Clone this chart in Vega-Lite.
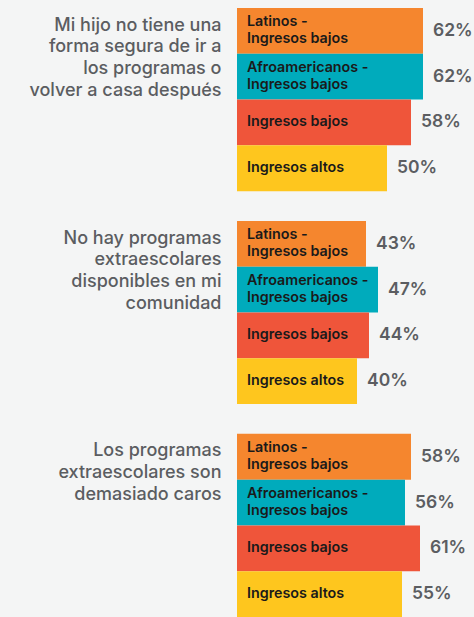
{
  "$schema": "https://vega.github.io/schema/vega-lite/v6.json",
  "width": 237,
  "height": 609,
  "autosize": "none",
  "padding": {"left": 237, "top": 8, "right": 0, "bottom": 0},
  "background": "#F4F5F5",
  "config": {"view": {"stroke": null}, "text": {"lineBreak": "\n"}},
  "data": {
    "values": [
      {"grupo": "Mi hijo no tiene una|forma segura de ir a|los programas o|volver a casa después", "cat": "Latinos -\nIngresos bajos", "v": 0.62},
      {"grupo": "Mi hijo no tiene una|forma segura de ir a|los programas o|volver a casa después", "cat": "Afroamericanos -\nIngresos bajos", "v": 0.62},
      {"grupo": "Mi hijo no tiene una|forma segura de ir a|los programas o|volver a casa después", "cat": "Ingresos bajos", "v": 0.58},
      {"grupo": "Mi hijo no tiene una|forma segura de ir a|los programas o|volver a casa después", "cat": "Ingresos altos", "v": 0.50},
      {"grupo": "No hay programas|extraescolares|disponibles en mi|comunidad", "cat": "Latinos -\nIngresos bajos", "v": 0.43},
      {"grupo": "No hay programas|extraescolares|disponibles en mi|comunidad", "cat": "Afroamericanos -\nIngresos bajos", "v": 0.47},
      {"grupo": "No hay programas|extraescolares|disponibles en mi|comunidad", "cat": "Ingresos bajos", "v": 0.44},
      {"grupo": "No hay programas|extraescolares|disponibles en mi|comunidad", "cat": "Ingresos altos", "v": 0.40},
      {"grupo": "Los programas|extraescolares son|demasiado caros", "cat": "Latinos -\nIngresos bajos", "v": 0.58},
      {"grupo": "Los programas|extraescolares son|demasiado caros", "cat": "Afroamericanos -\nIngresos bajos", "v": 0.56},
      {"grupo": "Los programas|extraescolares son|demasiado caros", "cat": "Ingresos bajos", "v": 0.61},
      {"grupo": "Los programas|extraescolares son|demasiado caros", "cat": "Ingresos altos", "v": 0.55}
    ]
  },
  "encoding": {
    "y": {
      "field": "grupo",
      "type": "nominal",
      "sort": null,
      "title": null,
      "scale": {"paddingInner": 0.14, "paddingOuter": 0},
      "axis": {
        "domain": false,
        "ticks": false,
        "labelPadding": 16,
        "labelAlign": "right",
        "labelBaseline": "top",
        "labelOffset": -83,
        "labelFont": "Inter",
        "labelFontSize": 18,
        "labelFontWeight": 500,
        "labelColor": "#5B5D61",
        "labelLineHeight": 21.7,
        "labelLimit": 300,
        "labelExpr": "split(datum.value, '|')"
      }
    },
    "yOffset": {
      "field": "cat",
      "type": "nominal",
      "sort": ["Latinos -\nIngresos bajos", "Afroamericanos -\nIngresos bajos", "Ingresos bajos", "Ingresos altos"],
      "scale": {"paddingInner": 0, "paddingOuter": 0}
    }
  },
  "layer": [
    {
      "mark": {"type": "bar"},
      "encoding": {
        "x": {"field": "v", "type": "quantitative", "scale": {"domain": [0, 0.79], "nice": false}, "axis": null},
        "color": {
          "field": "cat",
          "type": "nominal",
          "legend": null,
          "scale": {
            "domain": ["Latinos -\nIngresos bajos", "Afroamericanos -\nIngresos bajos", "Ingresos bajos", "Ingresos altos"],
            "range": ["#F5862E", "#00ABBC", "#EF553A", "#FEC61E"]
          }
        }
      }
    },
    {
      "mark": {"type": "text", "align": "left", "baseline": "middle", "dx": 10, "dy": {"expr": "indexof(datum.cat, '\\n') >= 0 ? -8.5 : 0"}, "font": "Inter", "fontSize": 14.3, "fontWeight": 600, "color": "#1A1A1A", "lineHeight": 17},
      "encoding": {
        "x": {"datum": 0, "type": "quantitative"},
        "text": {"field": "cat", "type": "nominal"}
      }
    },
    {
      "mark": {"type": "text", "align": "left", "baseline": "middle", "dx": 10, "font": "Inter", "fontSize": 17.5, "fontWeight": 600, "color": "#5B5D61"},
      "encoding": {
        "x": {"field": "v", "type": "quantitative"},
        "text": {"field": "v", "type": "quantitative", "format": ".0%"}
      }
    }
  ]
}
